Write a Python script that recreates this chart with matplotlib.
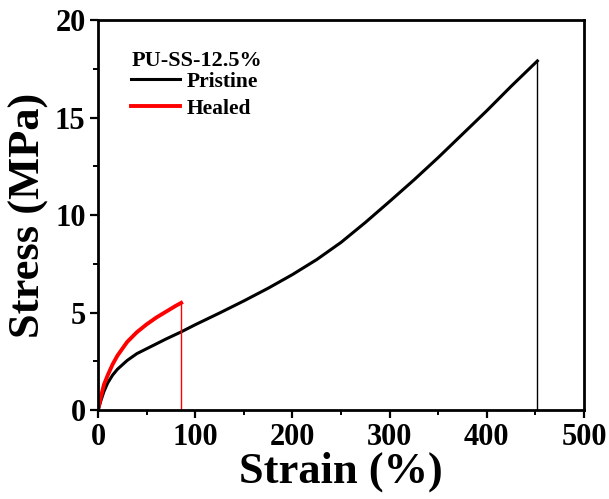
import numpy as np
import matplotlib
matplotlib.use("Agg")
import matplotlib.pyplot as plt

# Tensile data read from the stress-strain test
pristine_strain = [0, 3, 6, 10, 15, 20, 30, 40, 50, 60, 70, 85, 100, 125, 150,
                   175, 200, 225, 250, 275, 300, 325, 350, 375, 400, 425, 452]
pristine_stress = [0, 0.5, 0.95, 1.4, 1.8, 2.1, 2.55, 2.9, 3.15, 3.4, 3.65, 4.0,
                   4.38, 4.98, 5.6, 6.25, 6.95, 7.72, 8.6, 9.62, 10.7, 11.8,
                   12.95, 14.15, 15.35, 16.6, 17.9]

healed_strain = [0, 3, 6, 10, 15, 20, 30, 40, 50, 60, 70, 80, 85.5]
healed_stress = [0, 0.7, 1.3, 1.8, 2.35, 2.8, 3.5, 4.0, 4.4, 4.75, 5.05, 5.35, 5.5]

sample_name = "PU-SS-12.5%"

plt.rcParams['font.family'] = ['Liberation Serif', 'DejaVu Serif']
plt.rcParams['font.weight'] = 'bold'

fig = plt.figure(figsize=(6.09, 4.99), dpi=100)
ax = fig.add_axes([0.161, 0.178, 0.798, 0.782])

ax.plot(pristine_strain, pristine_stress, color='black', lw=2.2, label='Pristine')
ax.plot(healed_strain, healed_stress, color='red', lw=2.8, label='Healed')

# fracture drops
ax.plot([pristine_strain[-1]] * 2, [pristine_stress[-1], 0], color='black', lw=1.0)
ax.plot([healed_strain[-1]] * 2, [healed_stress[-1], 0], color='red', lw=1.0)

ax.set_xlim(0, 500)
ax.set_ylim(0, 20)
ax.set_xticks(np.arange(0, 501, 100))
ax.set_xticks(np.arange(0, 501, 50), minor=True)
ax.set_yticks(np.arange(0, 21, 5))
ax.set_yticks(np.arange(0, 21, 2.5), minor=True)

ax.tick_params(which='major', direction='out', length=6, width=1.6, labelsize=22, pad=3)
ax.tick_params(which='minor', direction='out', length=3.5, width=1.4)
for sp in ax.spines.values():
    sp.set_linewidth(2.0)

ax.set_xlabel('Strain (%)', fontsize=32, fontweight='bold', labelpad=0)
ax.set_ylabel('Stress (MPa)', fontsize=32, fontweight='bold', labelpad=4)

ax.text(0.07, 0.895, sample_name, transform=ax.transAxes, fontsize=16,
        fontweight='bold', ha='left', va='center')
ax.legend(loc='upper left', bbox_to_anchor=(0.045, 0.895), frameon=False,
          borderpad=0, handlelength=2.3, handletextpad=0.3, labelspacing=0.33,
          prop={'size': 15.5, 'weight': 'bold'})

fig.savefig('out.png', dpi=100)
